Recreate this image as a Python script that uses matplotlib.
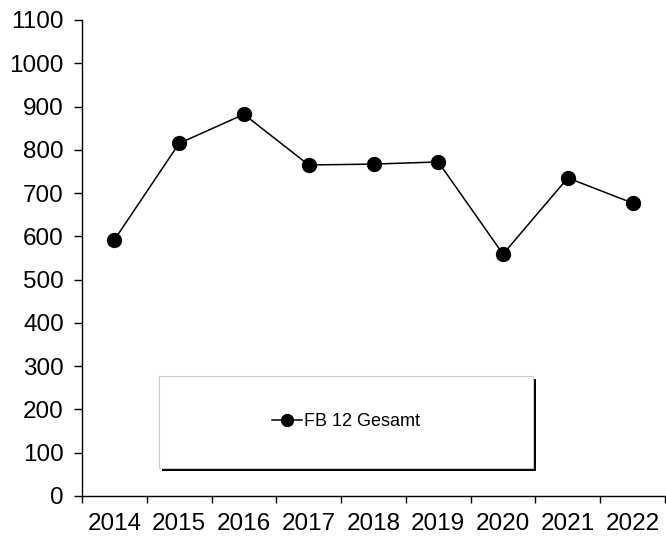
import matplotlib
matplotlib.use("Agg")
import matplotlib.pyplot as plt
from matplotlib.patches import Rectangle

years = ["2014", "2015", "2016", "2017", "2018", "2019", "2020", "2021", "2022"]
values = [592, 815, 882, 765, 767, 772, 559, 735, 677]
series_name = "FB 12 Gesamt"
yticks = list(range(0, 1101, 100))

plt.rcParams['font.family'] = ['Liberation Sans', 'DejaVu Sans']

fig = plt.figure(figsize=(6.66, 5.43), dpi=100)
ax = fig.add_axes([82/666, (543-496)/543, (665-82)/666, (496-20)/543])

x = [i + 0.5 for i in range(len(years))]
ax.plot(x, values, color='black', lw=1.1, marker='o', markersize=10, label=series_name)

ax.set_xlim(0, len(years))
ax.set_ylim(0, 1100)
ax.set_yticks(yticks)
ax.set_yticklabels([str(t) for t in yticks], fontsize=17.5)
ax.set_xticks(range(len(years) + 1))
ax.set_xticklabels([])
ax.set_xticks(x, minor=True)
ax.set_xticklabels(years, minor=True, fontsize=17.5)
ax.tick_params(axis='x', which='minor', length=0, pad=12)
ax.tick_params(axis='x', which='major', length=5, direction='out', width=1)
ax.tick_params(axis='y', length=6, direction='out', width=1, pad=7)
for s in ['top', 'right']:
    ax.spines[s].set_visible(False)
ax.spines['left'].set_linewidth(1)
ax.spines['bottom'].set_linewidth(1)

# legend box with shadow
def px(xp, yp):
    return (xp/666, 1 - yp/543)
x0, y0 = px(159, 468)
w = (533-159)/666
h = (468-376)/543
shadow = Rectangle((x0 + 3/666, y0 - 3/543), w, h, transform=fig.transFigure,
                   facecolor='black', edgecolor='none', zorder=5)
box = Rectangle((x0, y0), w, h, transform=fig.transFigure,
                facecolor='white', edgecolor='#cccccc', lw=0.8, zorder=6)
fig.add_artist(shadow)
fig.add_artist(box)
leg = fig.legend(loc='center', bbox_to_anchor=(x0 + w/2, y0 + h/2), frameon=False,
                 fontsize=13, handlelength=1.7, handletextpad=0.1, markerscale=0.85)
leg.set_zorder(7)

fig.savefig("out.png", dpi=100)
